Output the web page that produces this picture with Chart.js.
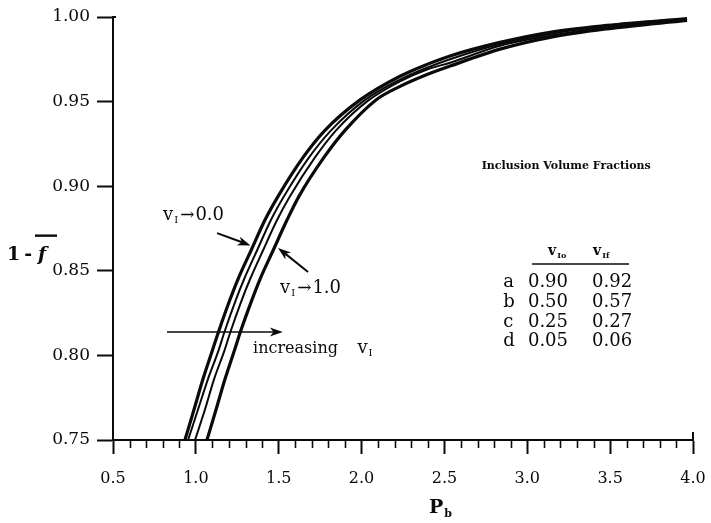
<!DOCTYPE html>
<html>
<head>
<meta charset="utf-8">
<script src="https://cdn.jsdelivr.net/npm/chart.js@4.4.1/dist/chart.umd.min.js"></script>
<style>
  html, body { margin: 0; padding: 0; background: #fff; }
  #wrap { width: 711px; height: 523px; }
</style>
</head>
<body>
<div id="wrap"><canvas id="c" width="711" height="523"></canvas></div>
<script>
// ---- Data ----
// Curves of 1 - f (mean) vs P_b for four inclusion volume fractions
const curveLabels = ['a', 'b', 'c', 'd'];
const vIo = ['0.90', '0.50', '0.25', '0.05'];
const vIf = ['0.92', '0.57', '0.27', '0.06'];

const F_low = [0.750, 0.768, 0.786, 0.803, 0.814, 0.833, 0.845, 0.862, 0.880, 0.894, 0.917, 0.933, 0.951];
const P_high = [2.232, 2.395, 2.534, 2.835, 3.137, 3.481, 3.964];

const P_a = [1.067, 1.122, 1.176, 1.233, 1.269, 1.339, 1.387, 1.466, 1.550, 1.622, 1.773, 1.900, 2.087];
const F_a = [0.959, 0.966, 0.971, 0.981, 0.988, 0.993, 0.998];

const P_b = [0.995, 1.055, 1.110, 1.173, 1.209, 1.278, 1.327, 1.405, 1.490, 1.568, 1.719, 1.846, 2.045];
const F_b = [0.962, 0.969, 0.973, 0.983, 0.989, 0.994, 0.999];

const P_c = [0.953, 1.013, 1.073, 1.137, 1.173, 1.242, 1.291, 1.369, 1.453, 1.532, 1.683, 1.816, 2.021];
const F_c = [0.963, 0.970, 0.975, 0.984, 0.990, 0.995, 0.999];

const P_d = [0.934, 0.989, 1.043, 1.100, 1.137, 1.206, 1.254, 1.333, 1.417, 1.496, 1.647, 1.779, 1.991];
const F_d = [0.965, 0.972, 0.977, 0.985, 0.991, 0.995, 0.999];

const xTicks = [0.5, 1.0, 1.5, 2.0, 2.5, 3.0, 3.5, 4.0];
const yTicks = [0.75, 0.80, 0.85, 0.90, 0.95, 1.00];

// ---- Build datasets ----
function pts(Plow, Fhigh) {
  const lo = Plow.map((p, i) => ({ x: p, y: F_low[i] }));
  const hi = P_high.map((p, i) => ({ x: p, y: Fhigh[i] }));
  return lo.concat(hi);
}
const series = [
  { label: 'd', data: pts(P_d, F_d), w: 3.2 },
  { label: 'c', data: pts(P_c, F_c), w: 2.0 },
  { label: 'b', data: pts(P_b, F_b), w: 2.0 },
  { label: 'a', data: pts(P_a, F_a), w: 3.2 }
];

const SERIF = '"DejaVu Serif", "Liberation Serif", serif';
const INK = '#0a0a0a';

function drawRuns(ctx, x, y, runs) {
  let cx = x;
  runs.forEach(r => {
    ctx.font = r.font;
    ctx.fillText(r.t, cx, y + (r.dy || 0));
    cx += ctx.measureText(r.t).width + (r.gap || 0);
  });
}

function arrow(ctx, x1, y1, x2, y2, w) {
  const ang = Math.atan2(y2 - y1, x2 - x1);
  const L = 13, H = 4.5;
  ctx.beginPath();
  ctx.lineWidth = w;
  ctx.moveTo(x1, y1);
  ctx.lineTo(x2 - Math.cos(ang) * L * 0.7, y2 - Math.sin(ang) * L * 0.7);
  ctx.stroke();
  ctx.beginPath();
  ctx.moveTo(x2, y2);
  ctx.lineTo(x2 - Math.cos(ang) * L + Math.sin(ang) * H, y2 - Math.sin(ang) * L - Math.cos(ang) * H);
  ctx.lineTo(x2 - Math.cos(ang) * L * 0.72, y2 - Math.sin(ang) * L * 0.72);
  ctx.lineTo(x2 - Math.cos(ang) * L - Math.sin(ang) * H, y2 - Math.sin(ang) * L + Math.cos(ang) * H);
  ctx.closePath();
  ctx.fill();
}

const annot = {
  id: 'annot',
  afterDraw(chart) {
    const ctx = chart.ctx;
    const xs = chart.scales.x, ys = chart.scales.y;
    const X = v => xs.getPixelForValue(v), Y = v => ys.getPixelForValue(v);
    const ca = chart.chartArea;
    ctx.save();
    ctx.fillStyle = INK;
    ctx.strokeStyle = INK;
    ctx.textBaseline = 'alphabetic';
    ctx.textAlign = 'left';

    // minor x ticks (every 0.1)
    ctx.lineWidth = 1.6;
    for (let i = 0; i < xTicks.length - 1; i++) {
      for (let k = 1; k < 5; k++) {
        const v = xTicks[i] + k * 0.1;
        const px = Math.round(X(v)) + 0.5;
        ctx.beginPath();
        ctx.moveTo(px, ca.bottom);
        ctx.lineTo(px, ca.bottom + 8);
        ctx.stroke();
      }
    }
    // end caps
    ctx.lineWidth = 2;
    ctx.beginPath();
    ctx.moveTo(X(4.0), ca.bottom);
    ctx.lineTo(X(4.0), ca.bottom - 8);
    ctx.stroke();
    ctx.beginPath();
    ctx.moveTo(ca.left, Y(1.0));
    ctx.lineTo(ca.left + 3, Y(1.0));
    ctx.stroke();

    // arrows
    arrow(ctx, X(1.128), Y(0.8723), X(1.330), Y(0.8650), 2);
    arrow(ctx, X(1.677), Y(0.8493), X(1.496), Y(0.8635), 2);
    arrow(ctx, X(0.826), Y(0.8138), X(1.525), Y(0.8138), 1.6);

    // curve labels
    const f18 = '18px ' + SERIF, f10 = '10px ' + SERIF;
    drawRuns(ctx, X(0.802), Y(0.880), [
      { t: 'v', font: f18, gap: 1 }, { t: 'I', font: f10, dy: 3, gap: 2 },
      { t: '\u2192', font: '17px ' + SERIF, gap: 1 }, { t: '0.0', font: f18 }
    ]);
    drawRuns(ctx, X(1.508), Y(0.8369), [
      { t: 'v', font: f18, gap: 1 }, { t: 'I', font: f10, dy: 3, gap: 2 },
      { t: '\u2192', font: '17px ' + SERIF, gap: 1 }, { t: '1.0', font: f18 }
    ]);
    drawRuns(ctx, X(1.345), Y(0.8014), [{ t: 'increasing', font: '16px ' + SERIF }]);
    drawRuns(ctx, X(1.975), Y(0.8014), [
      { t: 'v', font: f18, gap: 1 }, { t: 'I', font: f10, dy: 3 }
    ]);

    // table
    drawRuns(ctx, X(2.725), Y(0.9102), [{ t: 'Inclusion Volume Fractions', font: 'bold 11px ' + SERIF }]);
    drawRuns(ctx, X(3.125), Y(0.8593), [
      { t: 'v', font: 'bold 14px ' + SERIF, gap: 1 }, { t: 'Io', font: 'bold 8px ' + SERIF, dy: 3 }
    ]);
    drawRuns(ctx, X(3.397), Y(0.8593), [
      { t: 'v', font: 'bold 14px ' + SERIF, gap: 1 }, { t: 'If', font: 'bold 8px ' + SERIF, dy: 3 }
    ]);
    ctx.lineWidth = 1.6;
    ctx.beginPath();
    ctx.moveTo(X(3.029), Y(0.8540));
    ctx.lineTo(X(3.614), Y(0.8540));
    ctx.stroke();
    const rowY = [0.8404, 0.8286, 0.8168, 0.8056];
    curveLabels.forEach((lab, i) => {
      drawRuns(ctx, X(2.855), Y(rowY[i]), [{ t: lab, font: '18px ' + SERIF }]);
      drawRuns(ctx, X(3.004), Y(rowY[i]), [{ t: vIo[i], font: '18px ' + SERIF }]);
      drawRuns(ctx, X(3.391), Y(rowY[i]), [{ t: vIf[i], font: '18px ' + SERIF }]);
    });

    // axis titles
    const yT = Y(0.8625);
    drawRuns(ctx, 7, yT + 10, [
      { t: '1', font: 'bold 19px ' + SERIF, gap: 4 }, { t: '-', font: 'bold 19px ' + SERIF, gap: 4 }
    ]);
    ctx.font = 'italic bold 19px ' + SERIF;
    ctx.fillText('f', 38, yT + 10);
    ctx.lineWidth = 2.4;
    ctx.beginPath();
    ctx.moveTo(35, yT - 14);
    ctx.lineTo(57, yT - 14);
    ctx.stroke();

    drawRuns(ctx, 429, 513, [
      { t: 'P', font: 'bold 19px ' + SERIF, gap: 1 }, { t: 'b', font: 'bold 11px ' + SERIF, dy: 4 }
    ]);
    ctx.restore();
  }
};

new Chart(document.getElementById('c'), {
  type: 'line',
  data: {
    datasets: series.map(s => ({
      label: s.label,
      data: s.data,
      borderColor: INK,
      borderWidth: s.w,
      pointRadius: 0,
      fill: false,
      cubicInterpolationMode: 'monotone'
    }))
  },
  options: {
    responsive: false,
    animation: false,
    devicePixelRatio: 1,
    layout: { padding: { left: 0, right: 18, top: 17, bottom: 0 } },
    plugins: { legend: { display: false }, tooltip: { enabled: false } },
    scales: {
      x: {
        type: 'linear', min: 0.5, max: 4.0,
        afterBuildTicks: sc => { sc.ticks = xTicks.map(v => ({ value: v })); },
        afterFit: sc => { sc.height = 83; sc.paddingLeft = 0; sc.paddingRight = 0; },
        border: { display: true, color: INK, width: 2 },
        grid: { display: true, drawOnChartArea: false, drawTicks: true, tickLength: 14, tickWidth: 2, tickColor: INK },
        ticks: { color: INK, padding: 15, font: { family: SERIF, size: 16 }, callback: v => Number(v).toFixed(1), maxRotation: 0 }
      },
      y: {
        type: 'linear', min: 0.75, max: 1.0,
        afterBuildTicks: sc => { sc.ticks = yTicks.map(v => ({ value: v })); },
        afterFit: sc => { sc.width = 113; sc.paddingTop = 0; sc.paddingBottom = 0; },
        border: { display: true, color: INK, width: 2 },
        grid: { display: true, drawOnChartArea: false, drawTicks: true, tickLength: 16, tickWidth: 2, tickColor: INK },
        ticks: { color: INK, padding: 7, font: { family: SERIF, size: 17 }, callback: v => Number(v).toFixed(2) }
      }
    }
  },
  plugins: [annot]
});
</script>
</body>
</html>
